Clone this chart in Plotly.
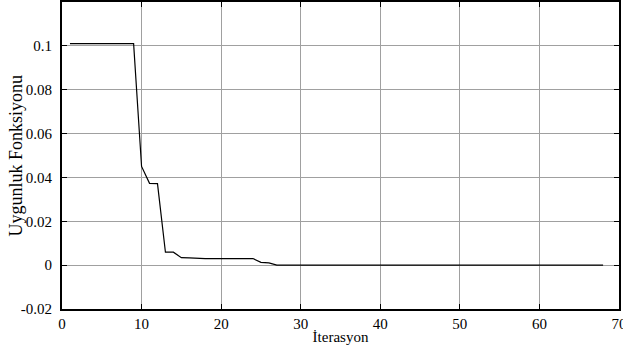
import plotly.graph_objects as go

iterations = list(range(1, 69))
fitness = ([0.101] * 9 +
           [0.045, 0.0373, 0.0372, 0.0059, 0.0059, 0.0034, 0.0033] +
           [0.003] * 8 +
           [0.0013, 0.001] +
           [0.0] * 42)

x_ticks = [0, 10, 20, 30, 40, 50, 60, 70]
y_ticks = [-0.02, 0, 0.02, 0.04, 0.06, 0.08, 0.1]
y_tick_text = ["-0.02", "0", "0.02", "0.04", "0.06", "0.08", "0.1"]

fig = go.Figure()
fig.add_trace(go.Scatter(x=iterations, y=fitness, mode="lines",
                         line=dict(color="black", width=1.2), showlegend=False))

font = "Liberation Serif"
fig.update_layout(
    width=623, height=349,
    margin=dict(l=62, r=4, t=2, b=40, autoexpand=False),
    paper_bgcolor="white", plot_bgcolor="white",
    font=dict(family=font, color="black", size=15),
)
fig.update_xaxes(range=[0, 70], tickvals=x_ticks, showgrid=True, automargin=False,
                 gridcolor="#a0a0a0", gridwidth=1, zeroline=False,
                 showline=True, linecolor="black", linewidth=2, mirror="ticks",
                 ticks="inside", ticklen=5, tickcolor="black",
                 ticklabeloverflow="allow",
                 tickfont=dict(family=font, size=15, color="black"),
                 title=dict(text="İterasyon", font=dict(family=font, size=15), standoff=0))
fig.update_yaxes(range=[-0.02, 0.12], tickvals=y_ticks, ticktext=y_tick_text,
                 showgrid=True, automargin=False, gridcolor="#a0a0a0", gridwidth=1, zeroline=False,
                 showline=True, linecolor="black", linewidth=2, mirror="ticks",
                 ticks="inside", ticklen=5, tickcolor="black",
                 ticklabeloverflow="allow", ticklabelstandoff=5,
                 tickfont=dict(family=font, size=15, color="black"))
fig.add_annotation(text="Uygunluk Fonksiyonu", textangle=-90, showarrow=False,
                   xref="paper", yref="paper", x=0, y=0.5, xanchor="center", yanchor="middle",
                   xshift=-47, font=dict(family=font, size=18, color="black"))

fig.write_html("out.html", config={"displayModeBar": False},
               post_script="document.body.style.margin='0';")
